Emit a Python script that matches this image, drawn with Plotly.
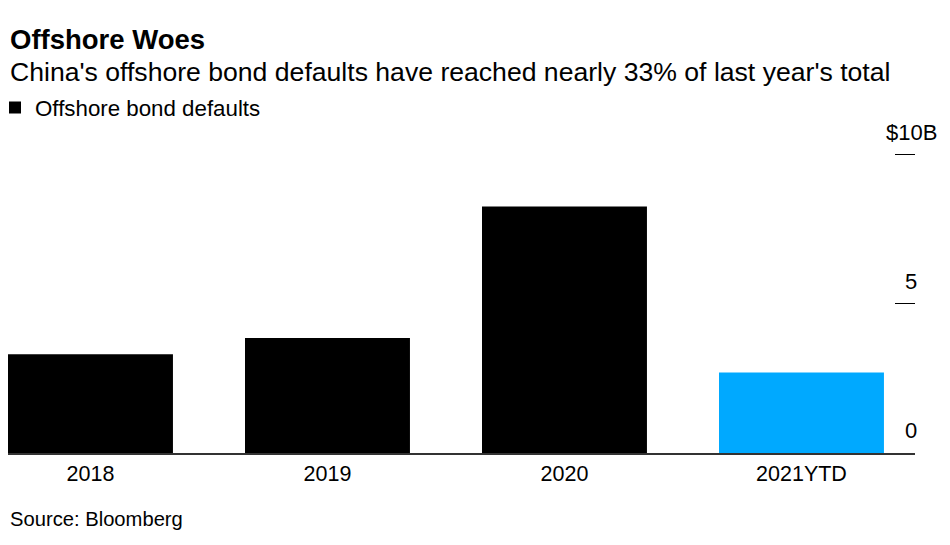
import plotly.graph_objects as go

categories = ["2018", "2019", "2020", "2021YTD"]
defaults_bn = [3.31, 3.86, 8.27, 2.70]
bar_colors = ["#000000", "#000000", "#000000", "#00A9FF"]
y_ticks = [0, 5, 10]
y_tick_labels = ["0", "5", "$10B"]

FONT = "Liberation Sans, Arial, sans-serif"

# page body adds an 8px offset; figure is sized to fill the rest of the window
W, H = 942, 537
L, R, T, B = 0, 35, 132.4, 92.3
plot_w = W - L - R
plot_h = H - T - B


def py(screen_y):
    fig_y = screen_y - 8
    return (H - B - fig_y) / plot_h


def px(screen_x):
    fig_x = screen_x - 8
    return (fig_x - L) / plot_w


fig = go.Figure()
fig.add_trace(go.Bar(
    x=categories,
    y=defaults_bn,
    name="Offshore bond defaults",
    marker=dict(color=bar_colors, line=dict(width=0)),
    width=0.696,
    showlegend=True,
))

ann = [
    dict(text="<b>Offshore Woes</b>", xref="paper", yref="paper", x=0, y=py(40),
         xanchor="left", yanchor="middle", showarrow=False,
         font=dict(size=27.5, family=FONT, color="#000000")),
    dict(text="China's offshore bond defaults have reached nearly 33% of last year's total",
         xref="paper", yref="paper", x=0, y=py(73), xanchor="left", yanchor="middle",
         showarrow=False, font=dict(size=26.6, family=FONT, color="#000000")),
    dict(text="Source: Bloomberg", xref="paper", yref="paper", x=0, y=py(519),
         xanchor="left", yanchor="middle", showarrow=False,
         font=dict(size=20.2, family=FONT, color="#000000")),
]
for v, lab in zip(y_ticks, y_tick_labels):
    ann.append(dict(
        text=lab, x=px(911), xref="paper", y=v, yref="y", showarrow=False,
        xanchor="center", yanchor="bottom", yshift=8,
        font=dict(size=22, color="#000000", family=FONT)))

fig.update_layout(
    width=W, height=H,
    margin=dict(l=L, r=R, t=T, b=B, pad=0, autoexpand=False),
    paper_bgcolor="white", plot_bgcolor="white",
    font=dict(family=FONT, color="#000000", size=21.5),
    showlegend=True,
    legend=dict(x=px(-5), y=py(108), xref="paper", yref="paper",
                xanchor="left", yanchor="middle",
                font=dict(size=22.3, family=FONT, color="#000000"),
                itemwidth=30, bgcolor="rgba(0,0,0,0)"),
    annotations=ann,
    xaxis=dict(
        range=[-0.348, 3.479],
        showgrid=False, zeroline=False,
        showline=True, linecolor="#333333", linewidth=1.5,
        ticks="", tickfont=dict(size=21.5, color="#000000", family=FONT),
        fixedrange=True,
    ),
    yaxis=dict(
        range=[0, 10.5], side="right",
        tickvals=y_ticks, showticklabels=False,
        ticks="inside", ticklen=20, tickwidth=1.2, tickcolor="#000000",
        showgrid=False, zeroline=False, showline=False,
        fixedrange=True,
    ),
)

fig.write_html("out.html")
